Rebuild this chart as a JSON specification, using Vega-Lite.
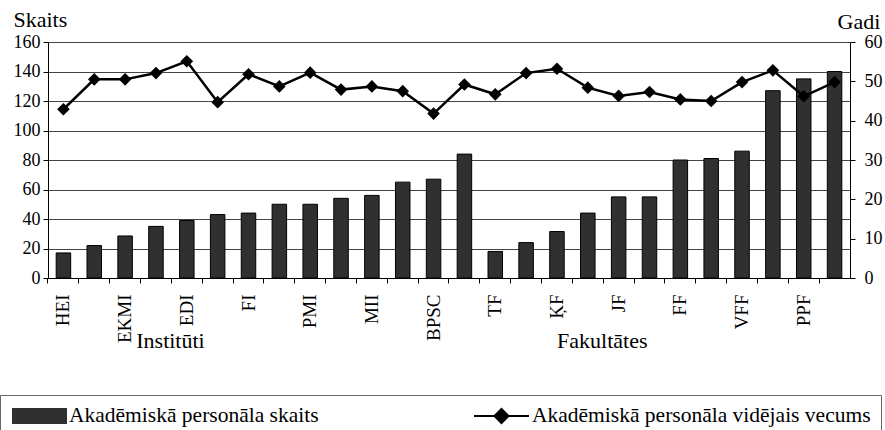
{
  "$schema": "https://vega.github.io/schema/vega-lite/v6.json",
  "width": 802,
  "height": 236,
  "autosize": "none",
  "padding": {"left": 48, "top": 42, "right": 35, "bottom": 152},
  "background": "white",
  "config": {
    "view": {"stroke": null},
    "font": "Liberation Serif",
    "axis": {"labelFont": "Liberation Serif", "titleFont": "Liberation Serif", "labelColor": "black", "titleColor": "black", "titleFontWeight": "normal", "domainColor": "black", "tickColor": "black"},
    "legend": {"labelFont": "Liberation Serif", "labelColor": "black"}
  },
  "datasets": {
    "main": [
      {"cat": "HEI", "count": 17, "age": 42.9},
      {"cat": "_2", "count": 22, "age": 50.5},
      {"cat": "EKMI", "count": 28.5, "age": 50.5},
      {"cat": "_4", "count": 35, "age": 52.1},
      {"cat": "EDI", "count": 39, "age": 55.1},
      {"cat": "_6", "count": 43, "age": 44.7},
      {"cat": "FI", "count": 44, "age": 51.8},
      {"cat": "_8", "count": 50, "age": 48.7},
      {"cat": "PMI", "count": 50, "age": 52.2},
      {"cat": "_10", "count": 54, "age": 47.9},
      {"cat": "MII", "count": 56, "age": 48.7},
      {"cat": "_12", "count": 65, "age": 47.5},
      {"cat": "BPSC", "count": 67, "age": 41.8},
      {"cat": "_14", "count": 84, "age": 49.2},
      {"cat": "TF", "count": 18, "age": 46.7},
      {"cat": "_16", "count": 24, "age": 52.1},
      {"cat": "ĶF", "count": 31.5, "age": 53.2},
      {"cat": "_18", "count": 44, "age": 48.4},
      {"cat": "JF", "count": 55, "age": 46.3},
      {"cat": "_20", "count": 55, "age": 47.3},
      {"cat": "FF", "count": 80, "age": 45.4},
      {"cat": "_22", "count": 81, "age": 45},
      {"cat": "VFF", "count": 86, "age": 49.8},
      {"cat": "_24", "count": 127, "age": 52.8},
      {"cat": "PPF", "count": 135, "age": 46.2},
      {"cat": "_26", "count": 140, "age": 49.8}
    ],
    "groups": [
      {"cat": "_4", "group": "Institūti"},
      {"cat": "_18", "group": "Fakultātes"}
    ]
  },
  "layer": [
    {
      "data": {"name": "main"},
      "mark": {"type": "bar", "stroke": "black", "strokeWidth": 1},
      "encoding": {
        "x": {
          "field": "cat", "type": "nominal", "sort": null,
          "scale": {"paddingInner": 0.53, "paddingOuter": 0.265},
          "axis": {
            "title": null,
            "labelExpr": "slice(datum.label, 0, 1) == '_' ? '' : datum.label",
            "labelAngle": -90,
            "labelFont": "Liberation Serif",
            "labelFontSize": 19,
            "labelPadding": 11,
            "tickSize": 5,
            "bandPosition": -0.565,
            "domainWidth": 1,
            "labelOverlap": false
          }
        },
        "y": {
          "field": "count", "type": "quantitative",
          "scale": {"domain": [0, 160]},
          "axis": {
            "values": [0, 20, 40, 60, 80, 100, 120, 140, 160],
            "labelOverlap": false,
            "title": "Skaits",
            "titleFont": "Liberation Serif",
            "labelFont": "Liberation Serif",
            "titleAngle": 0,
            "titleAlign": "left",
            "titleBaseline": "alphabetic",
            "titleX": -35,
            "titleY": -16,
            "titleFontSize": 22,
            "labelFontSize": 18,
            "labelPadding": 3,
            "tickSize": 5,
            "grid": true,
            "gridColor": "#444",
            "gridWidth": 1
          }
        },
        "color": {
          "datum": "Akadēmiskā personāla skaits",
          "type": "nominal",
          "scale": {
            "domain": ["Akadēmiskā personāla skaits", "Akadēmiskā personāla vidējais vecums"],
            "range": ["#303030", "#000000"]
          },
          "legend": {
            "title": null,
            "orient": "none",
            "legendX": -48,
            "legendY": 353,
            "direction": "horizontal",
            "strokeColor": "#666",
            "padding": 10,
            "labelFont": "Liberation Serif",
            "labelFontSize": 21.5,
            "labelLimit": 500,
            "symbolSize": 400,
            "labelOffset": 37,
            "columnPadding": 151,
            "symbolStrokeColor": "black",
            "symbolStrokeWidth": 2,
            "symbolType": {"expr": "datum.value == 'Akadēmiskā personāla skaits' ? 'M-0.8,-0.7H4.5V0.7H-0.8Z' : 'M-1,0H4.5M1.05,0L1.75,-0.7L2.45,0L1.75,0.7Z'"}
          }
        }
      }
    },
    {
      "data": {"name": "groups"},
      "mark": {"type": "text", "fontSize": 22, "font": "Liberation Serif", "align": "center", "baseline": "alphabetic", "dy": 70, "color": "black"},
      "encoding": {
        "x": {"field": "cat", "type": "nominal", "sort": null, "bandPosition": 1.5},
        "y": {"datum": 0, "type": "quantitative", "scale": {"domain": [0, 160]}, "axis": null},
        "text": {"field": "group"}
      }
    },
    {
      "data": {"name": "main"},
      "mark": {"type": "line", "strokeWidth": 2.5, "point": {"shape": "diamond", "size": 160, "filled": true, "color": "black"}},
      "encoding": {
        "x": {"field": "cat", "type": "nominal", "sort": null},
        "y": {
          "field": "age", "type": "quantitative",
          "scale": {"domain": [0, 60]},
          "axis": {
            "orient": "right",
            "values": [0, 10, 20, 30, 40, 50, 60],
            "labelOverlap": false,
            "title": "Gadi",
            "titleFont": "Liberation Serif",
            "labelFont": "Liberation Serif",
            "titleAngle": 0,
            "titleAlign": "left",
            "titleBaseline": "alphabetic",
            "titleX": -13,
            "titleY": -14,
            "titleFontSize": 22,
            "labelFontSize": 18,
            "labelPadding": 9,
            "tickSize": 5,
            "grid": false
          }
        },
        "color": {"datum": "Akadēmiskā personāla vidējais vecums", "type": "nominal"}
      }
    }
  ],
  "resolve": {"scale": {"y": "independent"}}
}
